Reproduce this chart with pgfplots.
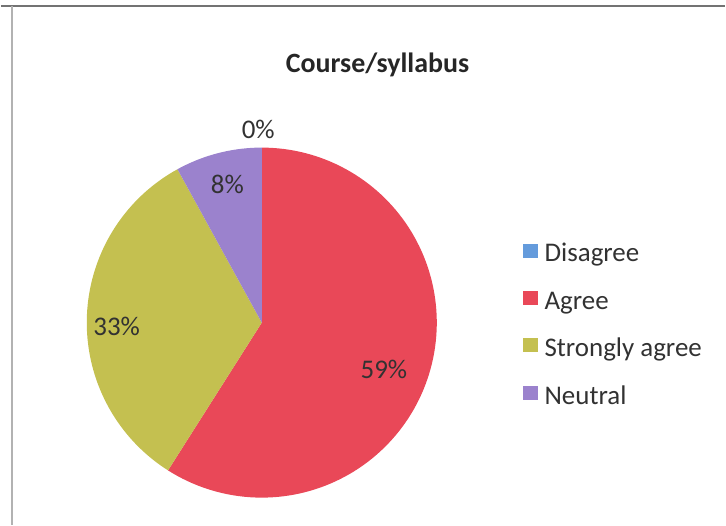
\documentclass[border=0pt]{standalone}
\usepackage{pgfplots}
\pgfplotsset{compat=1.18}
\usepackage{fontspec}
\setmainfont{Carlito}
\definecolor{cDis}{RGB}{100,155,220}
\definecolor{cAgr}{RGB}{233,72,88}
\definecolor{cStr}{RGB}{196,192,80}
\definecolor{cNeu}{RGB}{155,130,205}
\definecolor{txt}{RGB}{50,50,50}
\begin{document}
\begin{tikzpicture}
\begin{axis}[
  at={(0,0)}, anchor=south west,
  width=726bp, height=526bp, scale only axis,
  xmin=0, xmax=726, ymin=0, ymax=526,
  hide axis, clip=false,
  legend style={
    at={(axis cs:523.5,282)}, anchor=north west,
    draw=none, fill=none, inner sep=0pt,
    font=\fontsize{27bp}{31bp}\selectfont\color{txt},
    row sep=23bp, column sep=7.5bp,
    nodes={inner sep=0pt, text height=18.5bp, text depth=6bp},
    cells={anchor=west},
  },
  legend image code/.code={\fill[#1] (0bp,-1bp) rectangle (13.5bp,12bp);},
]
\path (axis cs:0,0) rectangle (axis cs:726,526);
% pie: centre (261.5,202.5), radius 175.5; clockwise from 12 o'clock
% Disagree 0, Agree 59, Strongly agree 33, Neutral 8 (percent)
\addlegendimage{cDis}\addlegendentry{Disagree}
\addplot[fill=cAgr, draw=none, domain=90:{90-59*3.6}, samples=120, forget plot]
  ({261.5+175.5*cos(x)},{202.5+175.5*sin(x)}) -- (axis cs:261.5,202.5) -- cycle;
\addlegendimage{cAgr}\addlegendentry{Agree}
\addplot[fill=cStr, draw=none, domain={90-59*3.6}:{90-92*3.6}, samples=80, forget plot]
  ({261.5+175.5*cos(x)},{202.5+175.5*sin(x)}) -- (axis cs:261.5,202.5) -- cycle;
\addlegendimage{cStr}\addlegendentry{Strongly agree}
\addplot[fill=cNeu, draw=none, domain={90-92*3.6}:{90-100*3.6}, samples=30, forget plot]
  ({261.5+175.5*cos(x)},{202.5+175.5*sin(x)}) -- (axis cs:261.5,202.5) -- cycle;
\addlegendimage{cNeu}\addlegendentry{Neutral}
% labels
\begin{scope}[font=\fontsize{27bp}{31bp}\selectfont, text=txt]
\node at (axis cs:258,396) {0\%};
\node at (axis cs:227,341) {8\%};
\node at (axis cs:116,199) {33\%};
\node at (axis cs:384,156) {59\%};
\end{scope}
\node[font=\fontsize{28bp}{32bp}\selectfont\bfseries, text=black!85] at (axis cs:377.5,461) {Course/syllabus};
% chart frame
\draw[line width=2bp, color=black!55] (axis cs:0,520) -- (axis cs:726,520);
\draw[line width=1.5bp, color=black!30] (axis cs:11,0) -- (axis cs:11,520);
\end{axis}
\end{tikzpicture}
\end{document}
